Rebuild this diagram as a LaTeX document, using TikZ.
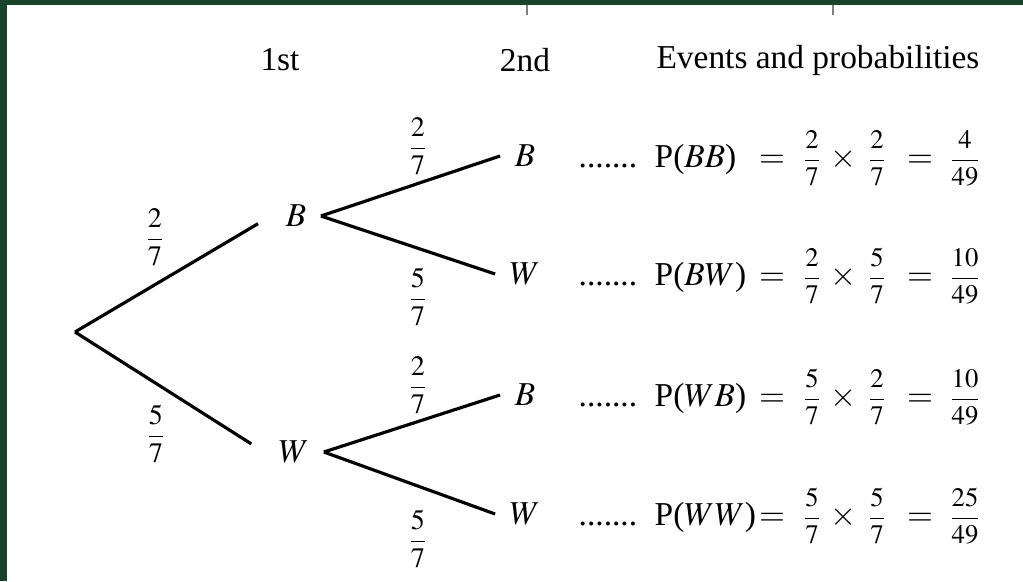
\documentclass[tikz,border=0pt]{standalone}
\usepackage{amsmath}
\usepackage{mathptmx}
\usepackage{fontspec}
\setmainfont{Liberation Serif}
\usetikzlibrary{positioning}
\definecolor{frame}{HTML}{18432A}

\begin{document}
\begin{tikzpicture}[
        x=0.01cm, y=-0.01cm,
        font=\fontsize{9.5}{11}\selectfont,
        branch/.style={line width=0.9pt},
        choice/.style={inner sep=4pt},
        prob/.style={inner sep=1pt, font=\fontsize{8}{9.5}\selectfont},
        head/.style={inner sep=1pt},
        part/.style={inner sep=0pt, anchor=base},
        small_frac/.style={inner sep=0pt, anchor=base, font=\fontsize{7.6}{9}\selectfont}
    ]
        % frame and page
        \useasboundingbox (0,0) rectangle (1023,581);
        \fill[frame] (0,0) rectangle (1023,581);
        \fill[white] (7,5) rectangle (1023,581);
        \draw[gray, line width=0.4pt] (527,5) -- (527,15);
        \draw[gray, line width=0.4pt] (833,5) -- (833,15);

        % column heads
        \node[head] (first) at (280,60) {1st};
        \node[head] (second) at (525,60) {2nd};
        \node[head] (events) at (818,60) {Events and probabilities};

        % the tree
        \coordinate (start) at (75,332);
        \node[choice] (B1) at (296,216) {$B$};
        \node[choice] (W1) at (294,452) {$W$};
        \node[choice] (BB) at (525,156) {$B$};
        \node[choice] (BW) at (525,274) {$W$};
        \node[choice] (WB) at (525,395) {$B$};
        \node[choice] (WW) at (525,514) {$W$};

        \draw[branch, shorten >=4.3pt] (start) -- (B1.west);
        \draw[branch, shorten >=4.3pt] (start) -- (W1.west);
        \draw[branch] (B1.east) -- (BB.west);
        \draw[branch] (B1.east) -- (BW.west);
        \draw[branch] (W1.east) -- (WB.west);
        \draw[branch] (W1.east) -- (WW.west);

        \node[prob] (pB1) at (155,237) {$\dfrac{2}{7}$};
        \node[prob] (pW1) at (156,434) {$\dfrac{5}{7}$};
        \node[prob] (pBB) at (418,146) {$\dfrac{2}{7}$};
        \node[prob] (pBW) at (418,297) {$\dfrac{5}{7}$};
        \node[prob] (pWB) at (418,385) {$\dfrac{2}{7}$};
        \node[prob] (pWW) at (418,539) {$\dfrac{5}{7}$};

        % events and probabilities
        \foreach \y/\ev/\a/\b/\r in {156/BB/2/2/4, 274/BW/2/5/10, 395/WB/5/2/10, 514/WW/5/5/25} {
            \node[part, anchor=base west] (dots\ev) at (578,\y+11) {.......};
            \node[part, anchor=base west] (ev\ev) at (654,\y+11) {P($\ev$)};
            \node[part] (eqa\ev) at (772,\y+11) {$=$};
            \node[small_frac] (fa\ev) at (812,\y+11) {$\dfrac{\a}{7}$};
            \node[part] (x\ev) at (843,\y+11) {$\times$};
            \node[small_frac] (fb\ev) at (877,\y+11) {$\dfrac{\b}{7}$};
            \node[part] (eqb\ev) at (920,\y+11) {$=$};
            \node[small_frac] (res\ev) at (965,\y+11) {$\dfrac{\r}{49}$};
        }
    \end{tikzpicture}
\end{document}
